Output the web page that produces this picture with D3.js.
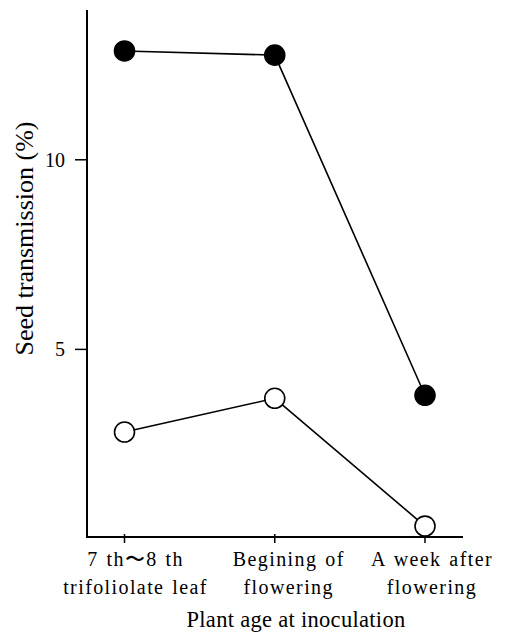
<!DOCTYPE html>
<html><head><meta charset="utf-8">
<script src="https://cdn.jsdelivr.net/npm/d3@7"></script>
<style>body{margin:0;background:#fff}svg{display:block}</style>
</head><body>
<svg id="c" width="514" height="635"></svg>
<script>
const categories = [["7 th\u301C8 th","trifoliolate leaf"],["Begining of","flowering"],["A week after","flowering"]];
const filledSeries = [12.87, 12.76, 3.79];
const openSeries = [2.82, 3.71, 0.34];
const yTicks = [5, 10];
const xTitle = "Plant age at inoculation";
const yTitle = "Seed transmission (%)";

const svg = d3.select("#c");
const font = "'Liberation Serif','Times New Roman',serif";
const x = d3.scalePoint().domain(d3.range(categories.length)).range([124.5, 425]);
const y = d3.scaleLinear().domain([0, 13.95]).range([539, 10]);
const axisY = 537, axisX = 87, axisRight = 463;
const labelShift = [11, 14, 7];

const g = svg.append("g");
g.append("line").attr("x1",axisX).attr("x2",axisX).attr("y1",y(13.95)).attr("y2",axisY+1)
 .attr("stroke","#000").attr("stroke-width",2);
g.append("line").attr("x1",axisX-1).attr("x2",axisRight).attr("y1",axisY).attr("y2",axisY)
 .attr("stroke","#000").attr("stroke-width",2);
yTicks.forEach(t=>{
  g.append("line").attr("x1",axisX-12).attr("x2",axisX).attr("y1",y(t)).attr("y2",y(t)).attr("stroke","#000").attr("stroke-width",1.5);
  g.append("text").attr("x",axisX-22).attr("y",y(t)).attr("dy","0.35em").attr("text-anchor","end")
   .attr("font-family",font).attr("font-size",20).text(t);
});
categories.forEach((c,i)=>{
  g.append("line").attr("x1",x(i)).attr("x2",x(i)).attr("y1",axisY-3).attr("y2",axisY+6).attr("stroke","#000").attr("stroke-width",1.5);
  c.forEach((line,j)=>{
    g.append("text").attr("x",x(i)+labelShift[i]).attr("y",566+j*28).attr("text-anchor","middle")
     .attr("font-family",font).attr("font-size",20).attr("letter-spacing",1.4).attr("word-spacing",1.5).text(line);
  });
});
g.append("text").attr("x",296).attr("y",627).attr("text-anchor","middle")
 .attr("font-family",font).attr("font-size",22.5).attr("letter-spacing",0.3).text(xTitle);
g.append("text").attr("transform","translate(33,238.5) rotate(-90)").attr("text-anchor","middle")
 .attr("font-family",font).attr("font-size",26).text(yTitle);

const line = d3.line().x((d,i)=>x(i)).y(d=>y(d));
[filledSeries, openSeries].forEach((s,k)=>{
  g.append("path").attr("d",line(s)).attr("fill","none").attr("stroke","#000").attr("stroke-width",1.6);
  g.selectAll(null).data(s).enter().append("circle")
   .attr("cx",(d,i)=>x(i)).attr("cy",d=>y(d)).attr("r",10)
   .attr("fill",k===0?"#000":"#fff").attr("stroke","#000").attr("stroke-width",1.6);
});
</script>
</body></html>
